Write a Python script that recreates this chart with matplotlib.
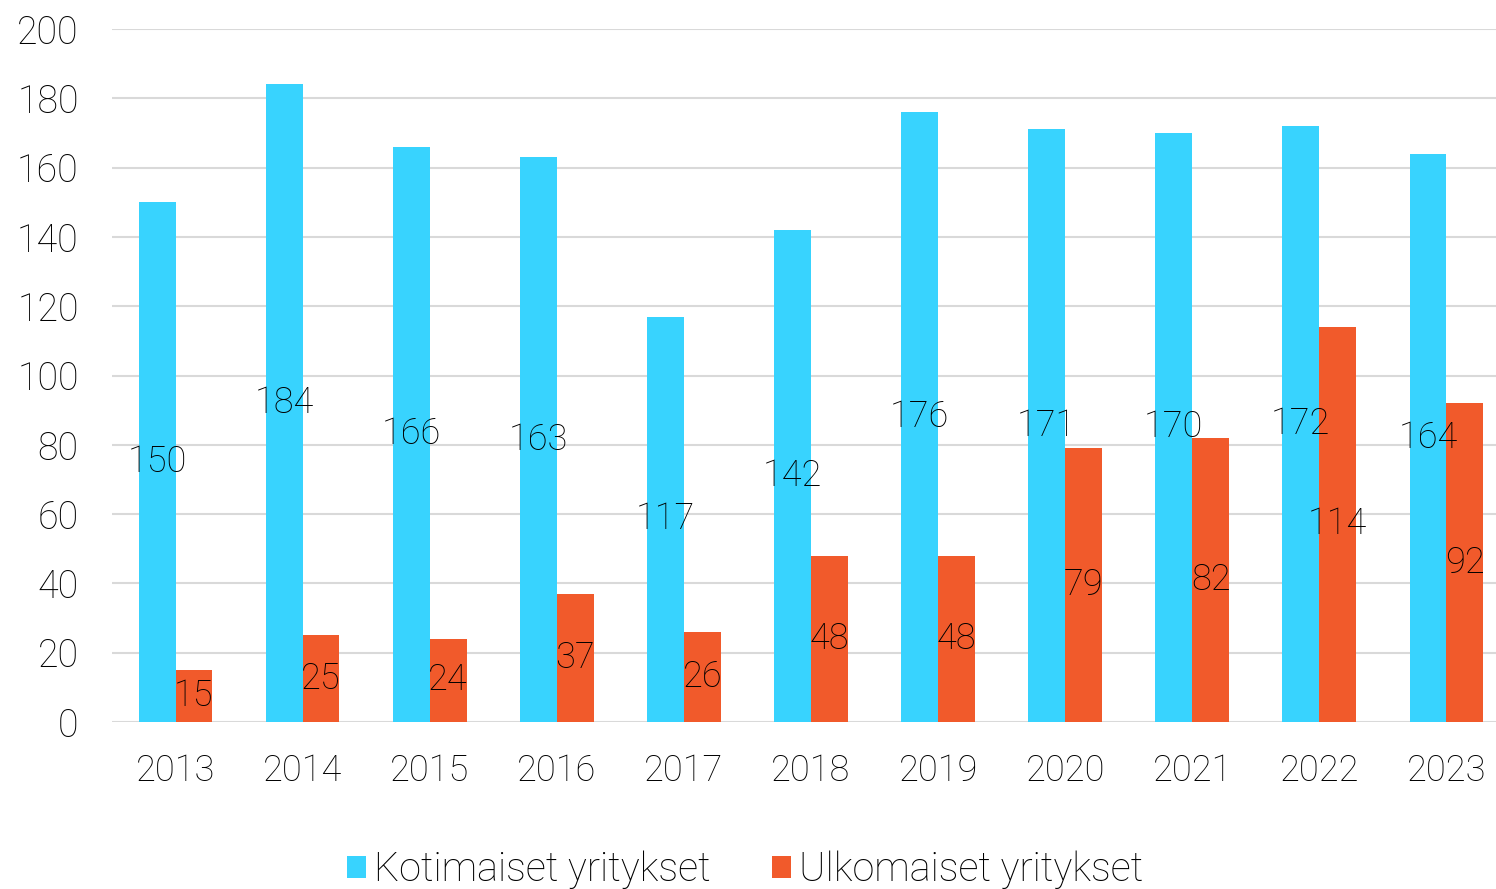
import matplotlib
matplotlib.use("Agg")
import matplotlib.pyplot as plt
import numpy as np

years = ["2013", "2014", "2015", "2016", "2017", "2018", "2019", "2020", "2021", "2022", "2023"]
kotimaiset = [150, 184, 166, 163, 117, 142, 176, 171, 170, 172, 164]
ulkomaiset = [15, 25, 24, 37, 26, 48, 48, 79, 82, 114, 92]
series_names = ["Kotimaiset yritykset", "Ulkomaiset yritykset"]
yticks = [0, 20, 40, 60, 80, 100, 120, 140, 160, 180, 200]

c_cyan = "#38D3FE"
c_orange = "#F15A2B"

plt.rcParams['font.family'] = ['Roboto', 'DejaVu Sans']
plt.rcParams['font.weight'] = 'light'
FS = 26

fig = plt.figure(figsize=(14.96, 8.89), dpi=100)
ax = fig.add_axes([112/1496, 167/889, 1 - 112/1496, (722-29)/889])

x = np.arange(len(years))
w = 0.29
b1 = ax.bar(x - w/2, kotimaiset, w, color=c_cyan, label=series_names[0], zorder=2)
b2 = ax.bar(x + w/2, ulkomaiset, w, color=c_orange, label=series_names[1], zorder=2)

for bars, vals in ((b1, kotimaiset), (b2, ulkomaiset)):
    for r, v in zip(bars, vals):
        ax.text(r.get_x() + r.get_width()/2, v/2, str(v), ha='center', va='center',
                fontsize=FS, color='black', zorder=3)

ax.set_ylim(0, 200)
ax.set_xlim(-0.5, 10.39)
ax.set_yticks(yticks)
ax.set_xticks(x)
ax.set_xticklabels(years)
ax.yaxis.grid(True, color='#D9D9D9', linewidth=1.5, zorder=0)
ax.set_axisbelow(True)
for s in ax.spines.values():
    s.set_visible(False)
ax.tick_params(axis='both', length=0, labelsize=FS, labelcolor='black')
ax.tick_params(axis='y', pad=24, labelsize=27)
ax.tick_params(axis='x', pad=22)

leg = fig.legend(handles=[b1, b2], labels=series_names, loc='center',
                 bbox_to_anchor=(745/1496, 1 - 870/889), ncol=2, frameon=False,
                 fontsize=28.5, handlelength=0.48, handleheight=0.48, handletextpad=0.2,
                 columnspacing=1.55)
for t in leg.get_texts():
    t.set_color('black')

fig.savefig("out.png", dpi=100)
